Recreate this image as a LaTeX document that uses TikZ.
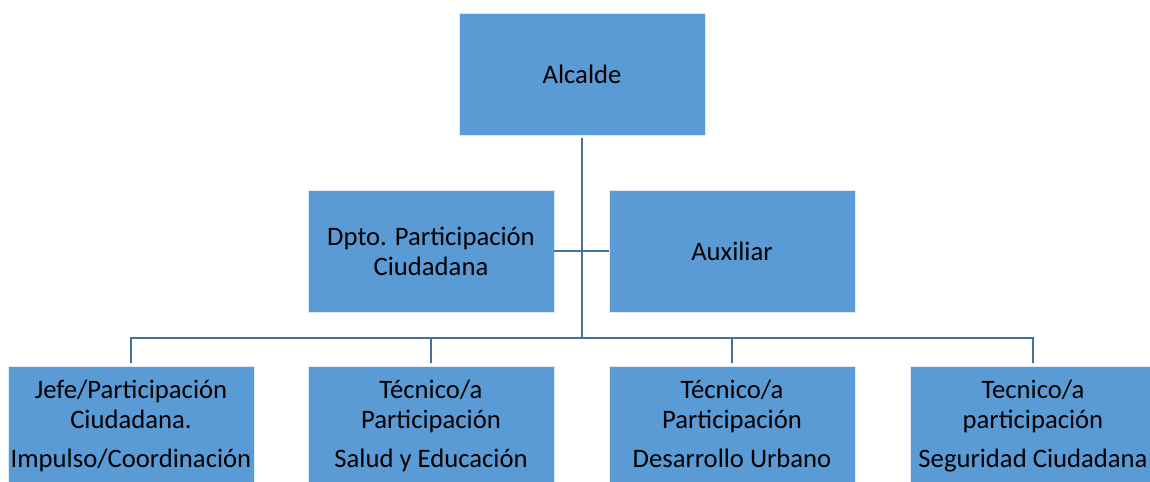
\documentclass[tikz,border=0pt]{standalone}
\usepackage{fontspec}
\setmainfont{Carlito}
\definecolor{boxblue}{HTML}{5B9BD5}
\definecolor{linkblue}{HTML}{41719C}
\begin{document}
\begin{tikzpicture}[x=0.75pt,y=-0.75pt,
  orgbox/.style={fill=boxblue,draw=white!80!boxblue,line width=0.6pt,minimum width=184.5pt,minimum height=91.5pt,
    align=center,inner sep=0pt,font=\fontsize{20}{22.5}\selectfont,text=black},
  link/.style={draw=linkblue,line width=2.2pt}]
\useasboundingbox (0,0) rectangle (1150,482);
\node[orgbox] (alc) at (582,74) {Alcalde};
\node[orgbox] (dpto) at (431,251) {Dpto. Participación\\Ciudadana};
\node[orgbox] (aux) at (732,251) {Auxiliar};
\node[orgbox] (b1) at (131,427) {Jefe/Participación\strut\\Ciudadana.\strut\\[7pt]Impulso/Coordinación\strut};
\node[orgbox] (b2) at (431,427) {Técnico/a\strut\\Participación\strut\\[7pt]Salud y Educación\strut};
\node[orgbox] (b3) at (732,427) {Técnico/a\strut\\Participación\strut\\[7pt]Desarrollo Urbano\strut};
\node[orgbox] (b4) at (1033,427) {Tecnico/a\strut\\participación\strut\\[7pt]Seguridad Ciudadana\strut};
\coordinate (hub) at (582,338);
\draw[link,shorten <=2pt] (alc.south) -- (hub);
\draw[link] (dpto.east) -- (aux.west);
\draw[link,shorten >=2pt] (b1.north |- hub) -- (b1.north);
\draw[link,shorten >=2pt] (b2.north |- hub) -- (b2.north);
\draw[link,shorten >=2pt] (b3.north |- hub) -- (b3.north);
\draw[link,shorten >=2pt] (b4.north |- hub) -- (b4.north);
\draw[link,line cap=rect] (b1.north |- hub) -- (b4.north |- hub);
\end{tikzpicture}
\end{document}
